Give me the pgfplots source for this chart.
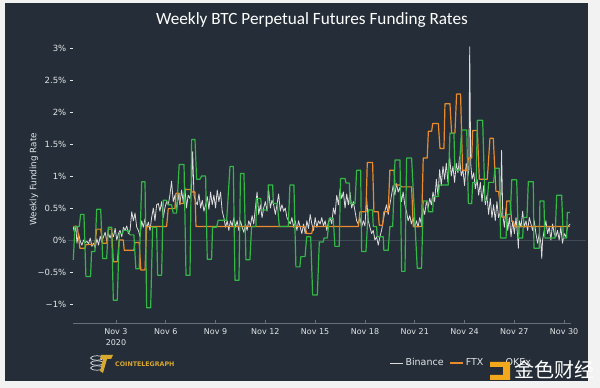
\documentclass[border=0pt]{standalone}
\usepackage{pgfplots}
\pgfplotsset{compat=1.18}
\usepackage{fontspec}
\setmainfont{DejaVu Sans}
\newfontfamily\titlefont{Carlito}
\newfontfamily\cjk{Noto Sans CJK SC}
\definecolor{outbg}{HTML}{F2F2F2}
\definecolor{panel}{HTML}{252E38}
\definecolor{binance}{HTML}{DCDCDC}
\definecolor{ftx}{HTML}{E98B2A}
\definecolor{okex}{HTML}{33B845}
\definecolor{ticktext}{HTML}{E2E5E8}
\definecolor{axisgrey}{HTML}{66707A}
\definecolor{zerocol}{HTML}{414B55}
\definecolor{gold}{HTML}{D9A82E}
\definecolor{wmyellow}{HTML}{F2A81D}
\begin{document}
\begin{tikzpicture}[x=1pt,y=1pt]
\fill[outbg] (0,0) rectangle (600,388);
\fill[panel] (5,7) rectangle (588,385);
\begin{axis}[
  at={(72.8pt,64.8pt)}, anchor=south west,
  width=498pt, height=288pt, scale only axis,
  xmin=0.4, xmax=30.4, ymin=-1.3, ymax=3.2,
  clip=false,
  axis x line*=bottom, axis y line*=left,
  x axis line style={draw=axisgrey, line width=1.2pt},
  y axis line style={draw=none},
  xtick={3,6,...,30},
  xticklabels={{Nov 3\\2020},Nov 6,Nov 9,Nov 12,Nov 15,Nov 18,Nov 21,Nov 24,Nov 27,Nov 30},
  xticklabel style={align=center, font=\fontsize{8}{10.5}\selectfont, text=ticktext, yshift=-2pt},
  yticklabel style={font=\fontsize{8.5}{10}\selectfont, text=ticktext},
  x tick style={draw=axisgrey, line width=0.8pt},
  y tick style={draw=ticktext, line width=0.5pt},
  xtick align=inside, ytick align=outside,
  major tick length=3pt,
  ytick={-1,-0.5,0,0.5,1,1.5,2,2.5,3},
  yticklabels={−1\%,−0.5\%,0\%,0.5\%,1\%,1.5\%,2\%,2.5\%,3\%},
  ylabel={Weekly Funding Rate},
  ylabel style={at={(axis description cs:-0.0779,0.5)}, anchor=center, font=\fontsize{8.8}{10}\selectfont, text=ticktext},
  legend style={at={(0.636,-0.138)}, anchor=west, draw=none, fill=none, text=ticktext, inner sep=0pt,
    font=\fontsize{9.5}{11}\selectfont, legend columns=3,
    /tikz/every even column/.append style={column sep=4pt}},
  legend image code/.code={\draw[#1] (0pt,0pt) -- (13pt,0pt);},
]
\addplot[zerocol, line width=0.6pt, forget plot] coordinates {(0.11,0) (31.3,0)};
\addplot[binance, line width=0.8pt, no markers, line join=round] table {
x y
0.43 0.20
0.50 0.12
0.58 0.22
0.65 -0.05
0.75 0.10
0.85 -0.02
0.95 -0.08
1.05 0.00
1.15 -0.04
1.25 -0.02
1.35 -0.06
1.45 0.03
1.55 -0.10
1.65 -0.05
1.75 -0.12
1.85 0.02
1.95 -0.08
2.05 0.06
2.15 -0.03
2.25 0.05
2.35 0.12
2.45 -0.02
2.55 0.10
2.65 0.03
2.75 0.12
2.85 0.05
2.95 0.18
3.05 0.00
3.15 0.10
3.25 0.15
3.35 0.05
3.45 0.20
3.55 0.15
3.65 0.22
3.75 0.10
3.85 0.15
3.95 0.44
4.05 0.30
4.15 0.42
4.25 0.20
4.35 0.15
4.45 0.05
4.55 0.30
4.65 0.20
4.75 0.33
4.85 0.18
4.95 0.28
5.05 0.15
5.15 0.35
5.25 0.50
5.35 0.30
5.45 0.55
5.55 0.57
5.65 0.45
5.75 0.60
5.85 0.35
5.95 0.50
6.05 0.60
6.15 0.55
6.25 0.70
6.35 0.92
6.45 0.60
6.55 0.70
6.65 0.45
6.75 0.72
6.85 0.55
6.95 0.78
7.05 0.60
7.15 0.82
7.25 0.50
7.35 0.70
7.45 0.65
7.55 0.80
7.62 1.38
7.70 0.70
7.80 0.60
7.90 0.55
8.00 0.72
8.10 0.50
8.20 0.62
8.30 0.45
8.40 0.55
8.50 0.68
8.60 0.48
8.70 0.75
8.80 0.55
8.90 0.70
9.00 0.50
9.10 0.78
9.20 0.60
9.30 0.75
9.40 0.45
9.50 0.35
9.60 0.20
9.70 0.30
9.80 0.15
9.90 0.30
10.00 0.22
10.10 0.35
10.20 0.20
10.30 0.30
10.40 0.15
10.50 0.30
10.60 0.20
10.70 0.12
10.80 0.25
10.90 0.15
11.00 0.30
11.10 0.22
11.20 0.38
11.30 0.25
11.40 0.50
11.50 0.75
11.60 0.40
11.70 0.55
11.80 0.35
11.90 0.50
12.00 0.60
12.10 0.45
12.20 0.78
12.30 0.50
12.40 0.62
12.50 0.55
12.60 0.40
12.70 0.55
12.80 0.72
12.90 0.45
13.00 0.55
13.10 0.45
13.20 0.50
13.30 0.35
13.40 0.30
13.50 0.25
13.60 0.35
13.70 0.20
13.80 0.30
13.90 0.15
14.00 0.30
14.10 0.20
14.20 0.10
14.30 0.25
14.40 0.10
14.50 0.30
14.60 0.18
14.70 0.40
14.80 0.25
14.90 0.15
15.00 0.35
15.10 0.20
15.20 0.30
15.30 0.25
15.40 0.35
15.50 0.22
15.60 0.30
15.70 0.15
15.80 0.28
15.90 0.35
16.00 0.25
16.10 0.50
16.20 0.40
16.30 0.70
16.40 0.55
16.50 0.80
16.60 0.65
16.70 0.75
16.80 0.50
16.90 0.72
17.00 0.55
17.10 0.75
17.20 0.50
17.30 0.60
17.40 0.45
17.50 0.30
17.60 0.25
17.70 0.35
17.80 0.20
17.90 0.30
18.00 0.22
18.10 0.65
18.20 0.30
18.30 0.20
18.40 0.10
18.50 0.15
18.60 0.00
18.70 0.05
18.80 -0.08
18.90 0.05
19.00 0.15
19.10 0.30
19.20 0.45
19.30 0.55
19.40 0.40
19.50 0.55
19.60 0.70
19.70 0.85
19.80 0.70
19.90 0.88
20.00 0.75
20.10 0.82
20.20 0.60
20.30 0.75
20.40 0.55
20.50 0.45
20.60 0.30
20.70 0.38
20.80 0.25
20.90 0.35
21.00 0.20
21.10 0.30
21.20 0.20
21.30 0.35
21.40 0.25
21.50 0.50
21.60 0.40
21.70 0.60
21.80 0.50
21.90 0.65
22.00 0.55
22.10 0.75
22.20 0.60
22.30 0.95
22.40 0.70
22.50 1.10
22.60 0.85
22.70 1.15
22.80 0.95
22.90 1.20
23.00 0.90
23.10 1.30
23.20 1.00
23.30 1.15
23.40 0.90
23.50 1.20
23.60 1.05
23.70 1.30
23.80 1.00
23.90 1.10
24.00 0.85
24.10 1.20
24.20 1.00
24.26 1.10
24.31 3.02
24.37 1.20
24.45 0.95
24.55 1.05
24.65 0.80
24.75 0.95
24.85 0.70
24.95 0.90
25.05 0.60
25.15 0.85
25.25 0.55
25.35 0.70
25.45 0.40
25.55 0.65
25.65 0.35
25.75 0.55
25.85 0.30
25.95 0.60
26.05 0.35
26.17 0.45
26.23 1.40
26.30 0.40
26.40 0.20
26.50 0.50
26.60 0.15
26.70 0.35
26.80 0.05
26.90 0.30
27.00 0.10
27.10 0.35
27.20 0.05
27.24 -0.13
27.30 0.30
27.40 0.20
27.50 0.45
27.60 0.20
27.70 0.30
27.80 0.15
27.90 0.35
28.00 0.25
28.10 0.15
28.20 0.30
28.30 0.10
28.40 -0.05
28.50 0.10
28.60 -0.05
28.65 -0.29
28.70 0.00
28.80 0.15
28.90 0.30
29.00 0.10
29.10 0.20
29.20 0.00
29.30 0.25
29.40 0.10
29.50 0.05
29.60 0.15
29.70 0.00
29.80 0.20
29.90 -0.05
30.00 0.10
30.10 0.05
30.20 0.20
30.35 0.25
};
\addlegendentry{Binance}
\addplot[ftx, line width=1.2pt, no markers, line join=round] table {
x y
0.43 0.21
0.67 0.21
0.83 -0.13
1.13 -0.13
1.19 -0.07
1.73 -0.07
1.84 0.17
2.08 0.17
2.20 -0.05
2.44 -0.05
2.54 0.17
2.74 0.17
2.84 -0.34
3.08 -0.34
3.20 0.00
3.44 0.00
3.50 -0.16
4.08 -0.16
4.14 -0.04
4.40 -0.04
4.50 -0.47
4.75 -0.47
4.85 0.21
6.05 0.21
6.15 0.49
6.55 0.49
6.61 0.73
6.81 0.73
6.86 0.57
7.06 0.57
7.16 0.79
7.50 0.79
7.56 0.75
7.76 0.75
7.82 0.21
14.39 0.21
14.49 0.10
14.79 0.10
14.89 0.21
17.60 0.21
17.70 0.44
18.06 0.44
18.14 1.21
18.46 1.21
18.54 0.44
18.80 0.44
18.86 0.23
19.06 0.23
19.14 0.44
19.40 0.44
19.50 1.09
19.75 1.09
19.81 0.86
20.11 0.86
20.21 0.83
20.81 0.83
20.91 0.21
21.41 0.21
21.51 1.28
21.75 1.28
21.82 1.70
22.02 1.70
22.08 1.82
22.42 1.82
22.52 1.43
22.76 1.43
22.82 2.13
23.12 2.13
23.22 1.67
23.42 1.67
23.52 2.28
23.76 2.28
23.88 1.09
24.13 1.09
24.23 1.28
24.43 1.28
24.49 1.71
24.77 1.71
24.89 0.95
25.37 0.95
25.53 1.59
25.73 1.59
25.89 0.76
26.05 0.76
26.23 0.36
26.50 0.36
26.54 0.61
26.74 0.61
26.84 0.29
26.94 0.29
27.04 0.21
30.35 0.21
};
\addlegendentry{FTX}
\addplot[okex, line width=1.2pt, no markers, line join=round] table {
x y
0.43 -0.31
0.53 0.21
0.79 0.21
0.87 0.40
1.07 0.40
1.19 -0.57
1.47 -0.57
1.53 -0.18
1.73 -0.18
1.84 0.48
2.08 0.48
2.20 -0.29
2.44 -0.29
2.54 0.20
2.74 0.20
2.84 -0.94
3.08 -0.94
3.20 0.10
3.40 0.10
3.44 0.15
3.74 0.15
3.84 0.08
4.08 0.08
4.20 -0.45
4.40 -0.45
4.55 0.91
4.75 0.91
4.85 -1.06
5.09 -1.06
5.21 0.20
5.45 0.20
5.51 -0.55
5.75 -0.55
5.85 0.62
6.05 0.62
6.15 0.55
6.35 0.55
6.45 0.42
6.65 0.42
6.81 1.18
7.10 1.18
7.22 -0.55
7.46 -0.55
7.56 1.57
7.76 1.57
7.86 0.95
8.06 0.95
8.16 1.00
8.40 1.00
8.50 -0.30
8.76 -0.30
8.82 0.20
9.06 0.20
9.16 0.31
9.67 0.31
9.87 1.15
10.07 1.15
10.17 -0.63
10.41 -0.63
10.50 1.04
10.71 1.04
10.83 -0.31
11.07 -0.31
11.17 0.21
11.43 0.21
11.47 0.65
11.72 0.65
11.78 0.47
12.12 0.47
12.18 0.86
12.44 0.86
12.48 0.57
12.72 0.57
12.84 0.21
13.38 0.21
13.48 0.86
13.72 0.86
13.84 -0.42
14.08 -0.42
14.14 -0.26
14.39 -0.26
14.49 0.05
14.73 0.05
14.85 -0.86
15.13 -0.86
15.25 -0.03
15.49 -0.03
15.53 0.03
15.73 0.03
15.85 0.34
16.09 0.34
16.19 -0.10
16.45 -0.10
16.53 0.96
16.80 0.96
16.86 0.89
17.06 0.89
17.10 0.57
17.40 0.57
17.50 1.09
17.74 1.09
17.80 -0.18
18.06 -0.18
18.20 0.47
18.46 0.47
18.50 0.21
18.70 0.21
18.74 0.05
19.10 0.05
19.14 -0.16
19.40 -0.16
19.50 0.21
19.67 0.21
19.81 1.25
20.11 1.25
20.21 -0.49
20.41 -0.49
20.51 1.28
20.81 1.28
21.15 -0.44
21.41 -0.44
21.51 0.61
21.75 0.61
21.82 0.44
22.08 0.44
22.12 0.68
22.42 0.68
22.48 0.86
23.02 0.86
23.12 1.67
23.36 1.67
23.42 1.09
23.68 1.09
23.82 1.72
24.13 1.72
24.23 0.57
24.43 0.57
24.49 0.90
24.70 0.90
24.77 1.87
25.09 1.87
25.23 0.62
25.37 0.62
25.45 0.90
25.75 0.90
25.83 1.12
26.09 1.12
26.17 0.03
26.50 0.03
26.56 0.40
26.76 0.40
26.84 0.94
27.14 0.94
27.24 0.03
27.50 0.03
27.56 0.35
27.76 0.35
27.84 0.91
28.14 0.91
28.18 -0.13
28.50 -0.13
28.54 0.61
28.78 0.61
28.84 0.03
29.45 0.03
29.55 0.70
29.85 0.70
29.95 0.03
30.15 0.03
30.19 0.43
30.35 0.43
};
\addlegendentry{OKEx}
\end{axis}
% title
\node[text=white, font=\titlefont\fontsize{17.2}{20}\selectfont] at (312,368) {Weekly BTC Perpetual Futures Funding Rates};
% cointelegraph logo
\begin{scope}[line width=0.7pt, draw=ticktext]
\draw (97,30) ellipse (6.5 and 2.2);
\draw (97,25) ellipse (6.5 and 2.2);
\draw (97,20) ellipse (6.5 and 2.2);
\end{scope}
\fill[gold] (101,33) -- (113,33) -- (111,29) -- (107,29) -- (103,15) -- (100,17) -- (103,29) -- (100,29) -- cycle;
\node[anchor=west, text=gold, font=\bfseries\fontsize{6.3}{7}\selectfont, inner sep=0pt] at (115,24) {COINTELEGRAPH};
% watermark
\fill[wmyellow] (490,26) -- (510,26) -- (510,8) -- (490,8) -- (490,13) -- (503,13) -- (503,21) -- (490,21) -- cycle;
\node[anchor=west, text=white, font=\cjk\fontsize{20}{22}\selectfont, inner sep=0pt] at (514,18) {金色财经};
\pgfresetboundingbox
\path[use as bounding box] (0,0) rectangle (600,388);
\end{tikzpicture}
\end{document}
